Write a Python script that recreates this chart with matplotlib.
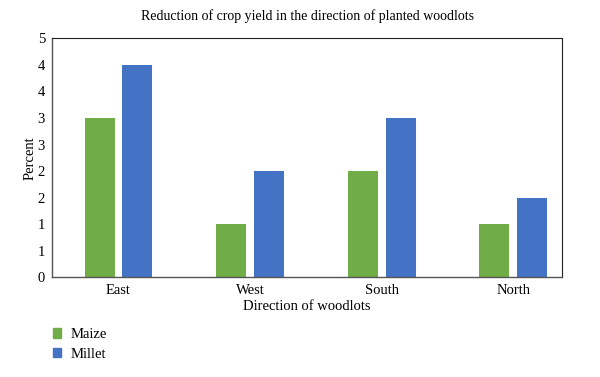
import matplotlib
matplotlib.use('AGG')
import matplotlib.pyplot as plt
from matplotlib.patches import Patch
import numpy as np

# Data
directions = ["East", "West", "South", "North"]
maize = [3.0, 1.0, 2.0, 1.0]
millet = [4.0, 2.0, 3.0, 1.5]
ytick_vals = [0, 0.5, 1.0, 1.5, 2.0, 2.5, 3.0, 3.5, 4.0, 4.5]
ytick_labels = ["0", "1", "1", "2", "2", "3", "3", "4", "4", "5"]

green = "#70AD47"
blue = "#4472C4"

plt.rcParams['font.family'] = ['Liberation Serif', 'DejaVu Serif']

fig = plt.figure(figsize=(6, 3.77), dpi=100)
ax = fig.add_axes([0.0867, 0.265, 0.85, 0.633])

x = np.arange(len(directions))
w = 0.228
off = 0.144
ax.bar(x - off, maize, width=w, color=green, label="Maize")
ax.bar(x + off, millet, width=w, color=blue, label="Millet")

ax.set_xlim(-0.505, 3.37)
ax.set_ylim(0, 4.5)
ax.set_yticks(ytick_vals)
ax.set_yticklabels(ytick_labels)
ax.set_xticks(x)
ax.set_xticklabels(directions)
ax.tick_params(length=0, labelsize=10.5, pad=5)

for s in ["left", "bottom"]:
    ax.spines[s].set_color("#555555")
    ax.spines[s].set_linewidth(1.0)
for s in ["top", "right"]:
    ax.spines[s].set_color("#222222")
    ax.spines[s].set_linewidth(0.8)

ax.set_title("Reduction of crop yield in the direction of planted woodlots", fontsize=10, pad=13)
ax.set_xlabel("Direction of woodlots", fontsize=10.5, labelpad=2)
ax.set_ylabel("Percent", fontsize=10.5, labelpad=1)

handles = [Patch(color=green, label="Maize"), Patch(color=blue, label="Millet")]
fig.legend(handles=handles, loc="upper left", bbox_to_anchor=(0.078, 0.145),
           frameon=False, fontsize=10.5, handlelength=0.6, handleheight=0.6,
           handletextpad=0.6, labelspacing=0.45, borderaxespad=0)

fig.savefig("out.png", dpi=100)
